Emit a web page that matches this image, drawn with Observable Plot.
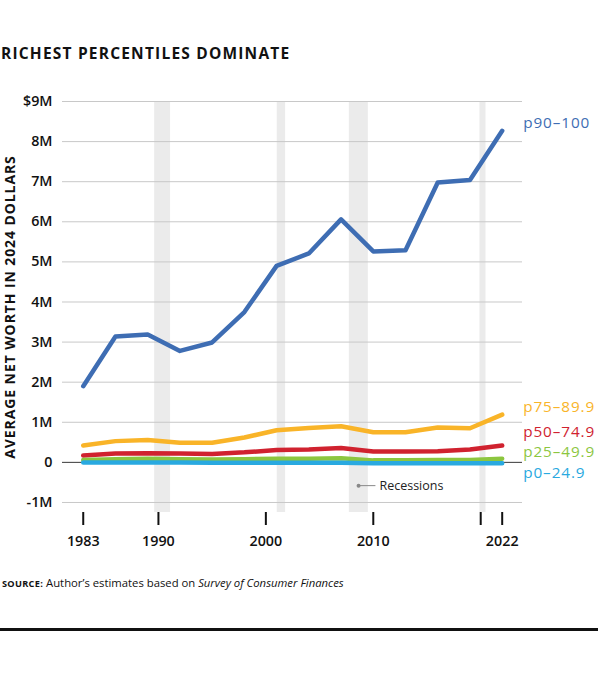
<!DOCTYPE html>
<html>
<head>
<meta charset="utf-8">
<script src="https://cdn.jsdelivr.net/npm/d3@7"></script>
<script src="https://cdn.jsdelivr.net/npm/@observablehq/plot@0.6"></script>
<style>
  html, body { margin: 0; padding: 0; background: #fff; }
  body { width: 600px; height: 678px; position: relative; overflow: hidden; font-family: "Open Sans", sans-serif; color: #111; }
  #title { position: absolute; left: 1px; top: 43px; font-weight: 700; font-size: 15.5px; line-height: 20px; letter-spacing: 1.2px; white-space: nowrap; }
  #chart { position: absolute; left: 0; top: 80px; }
  #source { position: absolute; left: 2px; top: 575px; font-size: 11.3px; line-height: 16px; white-space: nowrap; }
  #source b { font-size: 9.2px; letter-spacing: 0.3px; }
  #rule { position: absolute; left: 0; top: 628px; width: 598px; height: 2.5px; background: #111; }
</style>
</head>
<body>
<div id="title">RICHEST PERCENTILES DOMINATE</div>
<div id="chart"></div>
<div id="source"><b>SOURCE:</b> Author’s estimates based on <i>Survey of Consumer Finances</i></div>
<div id="rule"></div>
<script>
// ---- data (millions of 2024 dollars) ----
const years = [1983, 1986, 1989, 1992, 1995, 1998, 2001, 2004, 2007, 2010, 2013, 2016, 2019, 2022];
const p90_100  = [1.90, 3.14, 3.19, 2.78, 2.99, 3.75, 4.90, 5.21, 6.06, 5.26, 5.29, 6.98, 7.04, 8.27];
const p75_89_9 = [0.42, 0.53, 0.56, 0.49, 0.49, 0.62, 0.80, 0.86, 0.90, 0.75, 0.75, 0.87, 0.85, 1.19];
const p50_74_9 = [0.17, 0.22, 0.23, 0.22, 0.21, 0.25, 0.31, 0.32, 0.36, 0.27, 0.27, 0.28, 0.32, 0.42];
const p25_49_9 = [0.06, 0.08, 0.09, 0.08, 0.07, 0.08, 0.09, 0.09, 0.10, 0.05, 0.05, 0.06, 0.06, 0.09];
const p0_24_9  = [0.00, 0.00, 0.00, 0.00, -0.01, -0.01, -0.01, -0.01, -0.01, -0.02, -0.02, -0.02, -0.02, -0.02];

const seriesNames = ["p90–100", "p75–89.9", "p50–74.9", "p25–49.9", "p0–24.9"];
const seriesValues = [p90_100, p75_89_9, p50_74_9, p25_49_9, p0_24_9];
const seriesColors = ["#3e6db3", "#f9b428", "#d0222f", "#8cc63f", "#29a9e0"];
// vertical anchor of each end label (in $M)
const labelAt = [8.47, 1.39, 0.75, 0.25, -0.27];

const recessionStart = [1989.65, 2001.06, 2007.77, 2019.93];
const recessionEnd   = [1991.13, 2001.84, 2009.54, 2020.49];

const yTicks = [-1, 0, 1, 2, 3, 4, 5, 6, 7, 8, 9];
const xTicks = [1983, 1990, 2000, 2010, 2020, 2022];
const xTickLabels = ["1983", "1990", "2000", "2010", "", "2022"];
const yTitle = "AVERAGE NET WORTH IN 2024 DOLLARS";

// ---- build tables ----
const rows = [];
seriesNames.forEach((s, i) => years.forEach((yr, j) => rows.push({series: s, year: yr, value: seriesValues[i][j]})));
const recessions = recessionStart.map((s, i) => ({start: s, end: recessionEnd[i]}));
const labels = seriesNames.map((s, i) => ({series: s, year: years[years.length - 1], y: labelAt[i]}));
const legend = [{x1: 2008.63, x2: 2010.2, y: -0.58}];

const fmtY = d => d === 9 ? "$9M" : d === 0 ? "0" : `${d}M`;

const chart = Plot.plot({
  width: 600,
  height: 480,
  marginLeft: 62,
  marginRight: 78,
  marginTop: 21,
  marginBottom: 48,
  style: {fontFamily: "'Open Sans', sans-serif", fontSize: "14px", color: "#111", background: "white", overflow: "visible"},
  x: {domain: [1981.07, 2023.89]},
  y: {domain: [-1.25, 9]},
  color: {domain: seriesNames, range: seriesColors},
  marks: [
    Plot.rect(recessions, {x1: "start", x2: "end", fill: "#ebebeb"}),
    Plot.gridY(yTicks, {stroke: "#c8c8c8", strokeOpacity: 1, strokeWidth: 1}),
    Plot.ruleY([0], {stroke: "#444", strokeWidth: 1}),
    Plot.axisY(yTicks, {tickSize: 0, tickPadding: 10, tickFormat: fmtY, fontWeight: 600, fontSize: 14.3, label: null}),
    Plot.axisX(xTicks, {tickSize: 13, tickPadding: 10, tickFormat: (d) => xTickLabels[xTicks.indexOf(d)], strokeWidth: 2, fontWeight: 600, fontSize: 14.3, label: null}),
    Plot.text([yTitle], {frameAnchor: "left", dx: -52, rotate: -90, textAnchor: "middle", fontWeight: 700, fontSize: 14, text: d => d, fill: "#111"}),
    Plot.line(rows, {x: "year", y: "value", z: "series", stroke: "series", strokeWidth: 4.5, strokeLinejoin: "round", strokeLinecap: "round"}),
    Plot.text(labels, {x: "year", y: "y", text: "series", fill: "series", dx: 21, textAnchor: "start", fontSize: 15.3}),
    Plot.link(legend, {x1: "x1", x2: "x2", y1: "y", y2: "y", stroke: "#888", strokeWidth: 1}),
    Plot.dot(legend, {x: "x1", y: "y", r: 2, fill: "#888"}),
    Plot.text(legend, {x: "x2", y: "y", text: () => "Recessions", dx: 4, textAnchor: "start", fontSize: 12.5, fill: "#222"})
  ]
});
d3.select(chart).selectAll("text").each(function () {
  const t = this.textContent;
  if (t === yTitle) this.style.letterSpacing = "0.9px";
  else if (seriesNames.includes(t)) this.style.letterSpacing = "0.9px";
});
document.getElementById("chart").appendChild(chart);
</script>
</body>
</html>
